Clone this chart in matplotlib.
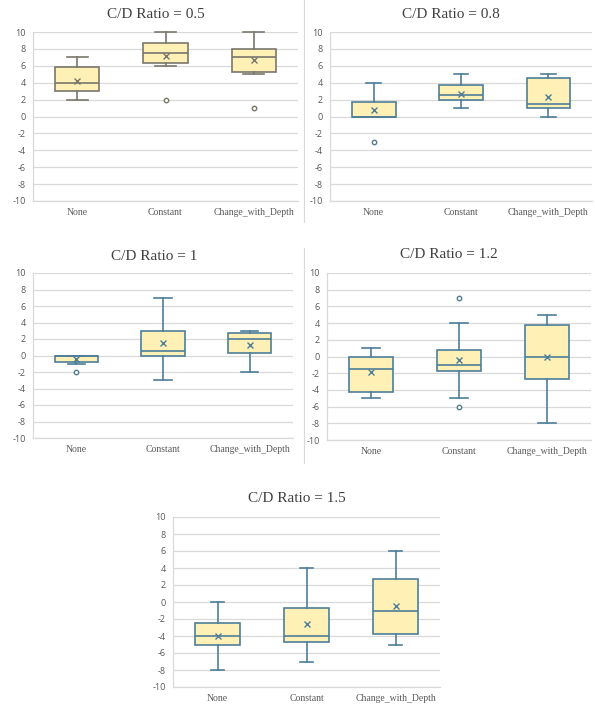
import matplotlib
matplotlib.use("Agg")
import matplotlib.pyplot as plt
from matplotlib.lines import Line2D

# ---- data -------------------------------------------------------------
categories = ["None", "Constant", "Change_with_Depth"]
ratios = ["0.5", "0.8", "1", "1.2", "1.5"]

whisker_low = [[2, 6, 5], [0, 1, 0], [-1, -3, -2], [-5, -5, -8], [-8, -7, -5]]
quartile_1 = [[3, 6.3, 5.3], [0, 2, 1], [-0.75, 0, 0.25], [-4.25, -1.75, -2.75], [-5, -4.75, -3.75]]
median = [[4, 7.5, 7], [0, 2.5, 1.5], [0, 0.5, 2], [-1.5, -1, 0], [-4, -4, -1]]
quartile_3 = [[5.8, 8.75, 8], [1.75, 3.75, 4.5], [0, 3, 2.75], [0, 0.75, 3.75], [-2.5, -0.75, 2.75]]
whisker_high = [[7, 10, 10], [4, 5, 5], [0, 7, 3], [1, 4, 5], [0, 4, 6]]
means = [[4.2, 7.2, 6.7], [0.8, 2.7, 2.3], [-0.4, 1.5, 1.3], [-1.9, -0.4, -0.1], [-4, -2.6, -0.5]]
outliers = [[[], [2], [1]], [[-3], [], []], [[-2], [], []], [[], [7, -6], []], [[], [], []]]

y_ticks = list(range(-10, 11, 2))

# ---- layout (pixel boxes: left, right, top, bottom of plot area) -----
W, H = 595, 705
plot_boxes = [
    (33, 298, 32, 201),
    (330, 592, 32, 201),
    (33, 293, 273, 438),
    (327, 591, 273, 440),
    (173, 440, 517, 687),
]
title_pos = [(156, 14), (451, 15), (154, 256), (449, 255), (297, 498)]
cap_widths = [0.24, 0.17, 0.2, 0.2, 0.15]

FILL = "#FFF1B5"
EDGE = "#4E7E99"
EDGE_FIRST = "#7A776C"
GRID = "#D9D9D9"
TICK_COLOR = "#595959"
TITLE_COLOR = "#404040"

fig = plt.figure(figsize=(W / 100, H / 100), dpi=100)

for i, ratio in enumerate(ratios):
    l, r, t, b = plot_boxes[i]
    ax = fig.add_axes([l / W, 1 - b / H, (r - l) / W, (b - t) / H])
    edge = EDGE_FIRST if i == 0 else EDGE

    stats = []
    for j, cat in enumerate(categories):
        stats.append(dict(
            label=cat,
            whislo=whisker_low[i][j],
            q1=quartile_1[i][j],
            med=median[i][j],
            q3=quartile_3[i][j],
            whishi=whisker_high[i][j],
            mean=means[i][j],
            fliers=outliers[i][j],
        ))

    positions = [j + 0.5 for j in range(len(categories))]
    parts = ax.bxp(
        stats,
        positions=positions,
        widths=0.5,
        showmeans=True,
        patch_artist=True,
        capwidths=cap_widths[i],
        boxprops=dict(facecolor=FILL, edgecolor=edge, linewidth=1.2),
        medianprops=dict(color=edge, linewidth=1.2),
        whiskerprops=dict(color=edge, linewidth=1.2),
        capprops=dict(color=edge, linewidth=1.2),
        meanprops=dict(marker="x", markeredgecolor=edge, markersize=5,
                       markeredgewidth=1.0),
        flierprops=dict(marker="o", markerfacecolor="#FFFBEA",
                        markeredgecolor=edge, markersize=3.2,
                        markeredgewidth=1.0),
        zorder=3,
    )
    for key in ("caps", "whiskers", "boxes", "medians"):
        for artist in parts[key]:
            artist.set_clip_on(False)

    ax.set_xlim(0, len(categories))
    ax.set_ylim(-10, 10)
    ax.set_yticks(y_ticks)
    ax.set_yticklabels([str(v) for v in y_ticks], fontsize=6.5,
                       color=TICK_COLOR, family="Open Sans")
    ax.set_xticks(positions)
    ax.set_xticklabels(categories, fontsize=7, color=TICK_COLOR,
                       family="Liberation Serif")
    ax.tick_params(axis="both", length=0)
    ax.tick_params(axis="y", pad=5)
    ax.tick_params(axis="x", pad=5)
    ax.grid(axis="y", color=GRID, linewidth=0.9, zorder=0)
    ax.set_axisbelow(True)
    for side in ("top", "right"):
        ax.spines[side].set_visible(False)
    for side in ("left", "bottom"):
        ax.spines[side].set_color(GRID)
        ax.spines[side].set_linewidth(0.9)

    tx, ty = title_pos[i]
    fig.text(tx / W, 1 - ty / H, f"C/D Ratio = {ratio}", ha="center",
             va="center", fontsize=11, color=TITLE_COLOR,
             family="Liberation Serif")

# thin separators between the left and right charts
for y0, y1 in [(0, 222), (248, 463)]:
    fig.add_artist(Line2D([304 / W, 304 / W], [1 - y0 / H, 1 - y1 / H],
                          transform=fig.transFigure, color=GRID,
                          linewidth=0.8))

fig.savefig("out.png", dpi=100, facecolor="white")
